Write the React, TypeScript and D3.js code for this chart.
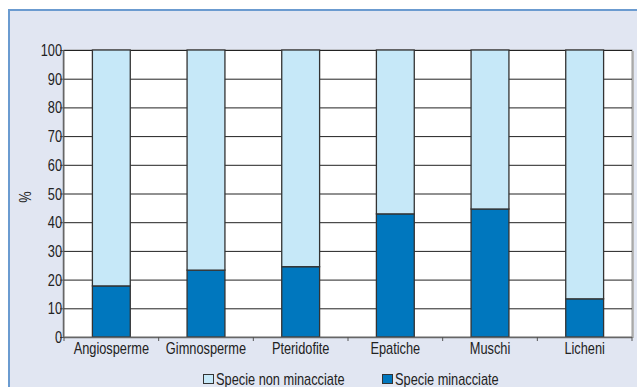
import React from "react";
import * as d3 from "d3";

const categories = ["Angiosperme", "Gimnosperme", "Pteridofite", "Epatiche", "Muschi", "Licheni"];
const threatened = [17.8, 23.3, 24.5, 42.9, 44.6, 13.3];
const yTicks = [0, 10, 20, 30, 40, 50, 60, 70, 80, 90, 100];
const seriesNames = ["Specie non minacciate", "Specie minacciate"];
const yLabel = "%";

const W = 637, H = 387;
const FONT = "'Liberation Sans', Arial, sans-serif";
const DARK = "#0077be";
const LIGHT = "#c6e8f8";
const SX = 0.8;

function T({ x, y, anchor = "start", children, rotate = 0 }: any) {
  return (
    <text
      transform={`translate(${x},${y}) rotate(${rotate}) scale(${SX},1)`}
      textAnchor={anchor}
      fontSize={16}
      fill="#222"
    >
      {children}
    </text>
  );
}

export default function App() {
  const left = 64, right = 632, top = 50, bottom = 337;
  const x = d3.scaleBand<string>().domain(categories).range([left, right]).paddingInner(0.6).paddingOuter(0.3);
  const band = d3.scaleBand<string>().domain(categories).range([left, right]);
  const y = d3.scaleLinear().domain([0, 100]).range([bottom, top]);
  const stackData = categories.map((c, i) => ({ cat: c, a: threatened[i], b: 100 - threatened[i] }));
  const stack = d3.stack<any>().keys(["a", "b"])(stackData);
  const colors = [DARK, LIGHT];

  return (
    <svg width={W} height={H} style={{ position: "absolute", left: 0, top: 0 }} fontFamily={FONT}>
      <rect x={9} y={10} width={W} height={H} fill="#e1e6f2" stroke="#6b9bd0" strokeWidth={2} />
      <rect x={left + 2} y={top + 1} width={right - left} height={bottom - top} fill="#b8b8b8" />
      <rect x={left} y={top} width={right - left} height={bottom - top} fill="#fff" stroke="#999" strokeWidth={1} />
      {yTicks.slice(1).map((t) => (
        <line key={t} x1={left} x2={right} y1={y(t) + 0.5} y2={y(t) + 0.5} stroke="#222" strokeWidth={1} />
      ))}
      {stack.map((s, si) =>
        s.map((d: any, i: number) => (
          <rect
            key={si + "-" + i}
            x={x(categories[i])!}
            y={y(d[1])}
            width={x.bandwidth()}
            height={y(d[0]) - y(d[1])}
            fill={colors[si]}
            stroke="#333"
            strokeWidth={1.3}
          />
        ))
      )}
      <line x1={left} x2={right} y1={bottom + 0.5} y2={bottom + 0.5} stroke="#666" strokeWidth={1.5} />
      <line x1={left - 0.5} x2={left - 0.5} y1={top} y2={bottom} stroke="#666" strokeWidth={1.5} />
      {yTicks.map((t) => (
        <g key={t}>
          <line x1={left - 4} x2={left} y1={y(t) + 0.5} y2={y(t) + 0.5} stroke="#555" strokeWidth={1} />
          <T x={left - 2} y={y(t) + 6} anchor="end">{t}</T>
        </g>
      ))}
      {categories.map((c, i) => (
        <g key={c}>
          <line x1={band(c)!} x2={band(c)!} y1={bottom} y2={bottom + 4} stroke="#555" strokeWidth={1} />
          <T x={band(c)! + band.bandwidth() / 2} y={353.5} anchor="middle">{c}</T>
        </g>
      ))}
      <line x1={right} x2={right} y1={bottom} y2={bottom + 4} stroke="#555" strokeWidth={1} />
      <T x={31} y={197} anchor="middle" rotate={-90}>{yLabel}</T>
      <rect x={203.5} y={374.5} width={10} height={9} fill={LIGHT} stroke="#333" strokeWidth={1} />
      <T x={216} y={384.5}>{seriesNames[0]}</T>
      <rect x={382.5} y={374.5} width={10} height={9} fill={DARK} stroke="#333" strokeWidth={1} />
      <T x={395} y={384.5}>{seriesNames[1]}</T>
    </svg>
  );
}
